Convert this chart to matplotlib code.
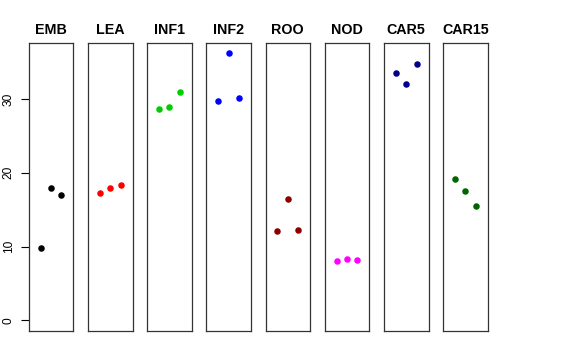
import matplotlib
matplotlib.use("Agg")
import matplotlib.pyplot as plt

plt.rcParams['font.family'] = ['Liberation Sans', 'DejaVu Sans']

# tissues and three replicate values each
tissues = ["EMB", "LEA", "INF1", "INF2", "ROO", "NOD", "CAR5", "CAR15"]
values = [
    [9.8, 17.9, 17.0],
    [17.2, 17.9, 18.3],
    [28.6, 28.9, 31.0],
    [29.8, 36.2, 30.1],
    [12.1, 16.5, 12.3],
    [8.1, 8.3, 8.2],
    [33.5, 32.1, 34.8],
    [19.1, 17.5, 15.5],
]
colors = ["black", "red", "#00CD00", "blue", "#8B0000", "magenta", "#00008B", "#006400"]
reps = [1, 2, 3]

W, H = 576, 360
fig = plt.figure(figsize=(W / 100, H / 100), dpi=100)

ymax = max(max(v) for v in values)
pad = ymax * 0.04

left0 = 28.7
step = 59.2
pw = 44.6
top, bottom = 42.7, 331.0

for i, (name, vals, col) in enumerate(zip(tissues, values, colors)):
    x0 = left0 + i * step
    ax = fig.add_axes([x0 / W, 1 - bottom / H, pw / W, (bottom - top) / H])
    ax.scatter(reps, vals, color=col, s=22, zorder=3, linewidths=0)
    ax.set_xlim(-0.16, 4.16)
    ax.set_ylim(-pad, ymax + pad)
    ax.set_xticks([])
    for sp in ax.spines.values():
        sp.set_linewidth(0.9)
        sp.set_color("#333333")
    ax.set_title(name, fontsize=10.3, fontweight="bold", pad=6)
    if i == 0:
        ax.set_yticks([0, 10, 20, 30])
        ax.tick_params(axis="y", length=6, width=0.8, labelsize=8.6, pad=4)
        for lab in ax.get_yticklabels():
            lab.set_rotation(90)
            lab.set_va("center")
    else:
        ax.set_yticks([])

fig.savefig("out.png", dpi=100)
